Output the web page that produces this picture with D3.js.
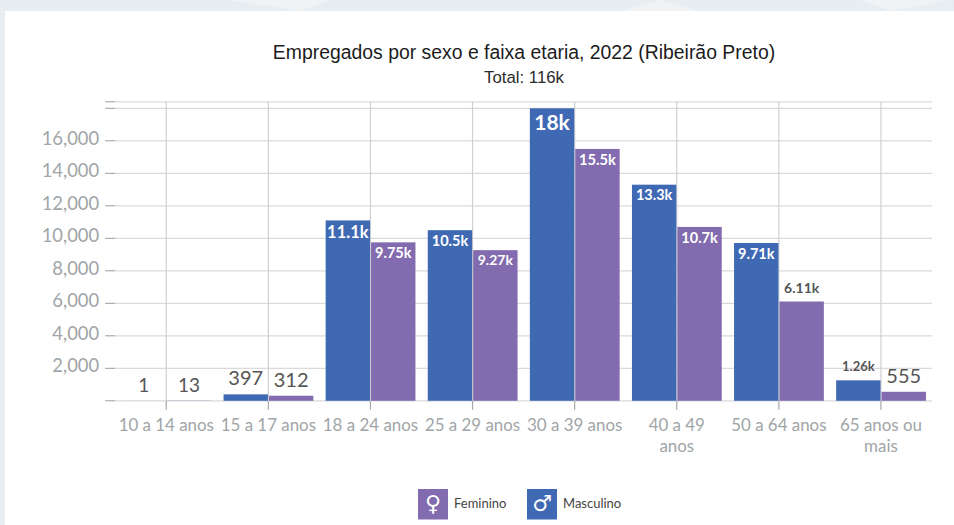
<!DOCTYPE html>
<html><head><meta charset="utf-8">
<script src="https://cdn.jsdelivr.net/npm/d3@7"></script>
<style>
html,body{margin:0;padding:0;background:#e7edf1;overflow:hidden}
svg{display:block}
</style></head><body>
<svg id="c" width="954" height="525"></svg>
<script>
const categories = ["10 a 14 anos","15 a 17 anos","18 a 24 anos","25 a 29 anos","30 a 39 anos","40 a 49 anos","50 a 64 anos","65 anos ou mais"];
const categoryLines = [["10 a 14 anos"],["15 a 17 anos"],["18 a 24 anos"],["25 a 29 anos"],["30 a 39 anos"],["40 a 49","anos"],["50 a 64 anos"],["65 anos ou","mais"]];
const masculino = [1,397,11100,10500,18000,13300,9710,1260];
const feminino = [13,312,9750,9270,15500,10700,6110,555];
const masculinoLabels = ["1","397","11.1k","10.5k","18k","13.3k","9.71k","1.26k"];
const femininoLabels = ["13","312","9.75k","9.27k","15.5k","10.7k","6.11k","555"];
const masculinoLabelSizes = [19,20,16.5,14.5,21,14.5,14.5,13];
const femininoLabelSizes = [19,20,14.5,14,14.7,14.5,14,20];
const yTicks = [0,2000,4000,6000,8000,10000,12000,14000,16000,18000,18400];

const FONT = "Lato, 'Noto Sans', sans-serif";
const BLUE = "#4069b3", PURPLE = "#826bae";
const svg = d3.select("#c");

// page panel
svg.append("rect").attr("width",954).attr("height",525).attr("fill","#e7edf1");
svg.append("path").attr("d","M230 0L300 11L330 0ZM620 11L660 0L700 11ZM860 0L890 11L950 0Z").attr("fill","#f0f3f6");
svg.append("rect").attr("x",5).attr("y",11).attr("width",949).attr("height",514).attr("fill","#fff");

const x = d3.scaleBand().domain(categories).range([115.2,932]).paddingInner(0).paddingOuter(0);
const y = d3.scaleLinear().domain([0,18000]).range([400.8,108.3]);
const inner = 44.4;

// title
svg.append("text").attr("x",524).attr("y",59).attr("text-anchor","middle")
  .style("font","19.4px 'Liberation Sans',Arial,sans-serif").attr("fill","#1c1c1c")
  .text("Empregados por sexo e faixa etaria, 2022 (Ribeirão Preto)");
svg.append("text").attr("x",524).attr("y",83).attr("text-anchor","middle")
  .style("font","16.8px 'Liberation Sans',Arial,sans-serif").attr("fill","#2a2a2a")
  .text("Total: 116k");

// y axis
const gy = svg.append("g").attr("transform","translate(115.2,0)")
  .call(d3.axisLeft(y).offset(0).tickValues(yTicks).tickSize(10).tickPadding(6)
    .tickFormat(d => (d===0||d>16000) ? "" : d3.format(",")(d)));
gy.select(".domain").remove();
gy.selectAll(".tick line").attr("stroke","#9a9a9a").attr("stroke-width",1);
gy.selectAll(".tick text").attr("fill","#a0a5a7").style("font",`18.4px ${FONT}`).attr("dy","0.22em");
gy.selectAll(".tick").each(function(){
  d3.select(this).append("line").attr("x1",0).attr("x2",816.8).attr("stroke","#dadada").attr("stroke-width",1.2);
});

// x axis
const gx = svg.append("g").attr("transform","translate(0,400.8)")
  .call(d3.axisBottom(x).offset(0).tickSize(9).tickPadding(6).tickFormat(""));
gx.select(".domain").remove();
gx.selectAll(".tick line").attr("stroke","#a8a8a8").attr("stroke-width",1.2);
gx.selectAll(".tick").each(function(d,i){
  const g = d3.select(this);
  g.append("line").attr("y1",0).attr("y2",y(18400)-y(0)).attr("stroke","#d0d0d0").attr("stroke-width",1.2);
  g.select("text").remove();
  const t = g.append("text").attr("text-anchor","middle").attr("fill","#a0a5a7").style("font",`16.9px ${FONT}`);
  categoryLines[i].forEach((s,k)=>t.append("tspan").attr("x",0).attr("y",30+k*21).text(s));
});

// bars
const series = [
 {vals:masculino,labels:masculinoLabels,sizes:masculinoLabelSizes,color:BLUE,dx:-inner-0.4},
 {vals:feminino,labels:femininoLabels,sizes:femininoLabelSizes,color:PURPLE,dx:0.6}
];
series.forEach(s=>{
  const g = svg.append("g");
  categories.forEach((c,i)=>{
    const cx = x(c)+x.bandwidth()/2;
    const top = y(s.vals[i]);
    const h = y(0)-top;
    g.append("rect").datum(s.vals[i]).attr("x",cx+s.dx).attr("y",top).attr("width",inner).attr("height",h)
      .attr("fill",s.color);
    const inside = h > 150;
    const lab = g.append("text").attr("x",cx+s.dx+inner/2).attr("text-anchor","middle")
      .text(s.labels[i]);
    if(inside){
      lab.attr("y",top+s.sizes[i]*0.95+2).attr("fill","#fff")
        .style("font",`700 ${s.sizes[i]}px ${FONT}`);
    } else {
      lab.attr("y",top-9).attr("fill","#555")
        .style("font",`${s.sizes[i]>=16?400:700} ${s.sizes[i]}px ${FONT}`);
    }
  });
});

// legend
const legend = [
 {name:"Feminino",sym:"\u2640",color:PURPLE,x:418},
 {name:"Masculino",sym:"\u2642",color:BLUE,x:527}
];
const lg = svg.append("g");
legend.forEach(l=>{
  lg.append("rect").attr("x",l.x).attr("y",489).attr("width",30).attr("height",30.5).attr("fill",l.color);
  lg.append("text").attr("x",l.x+15).attr("y",511).attr("text-anchor","middle").attr("fill","#fff")
    .style("font","bold 22px 'DejaVu Sans',sans-serif").text(l.sym);
  lg.append("text").attr("x",l.x+36).attr("y",508).attr("fill","#444")
    .style("font",`400 13px ${FONT}`).text(l.name);
});
</script>
</body></html>
